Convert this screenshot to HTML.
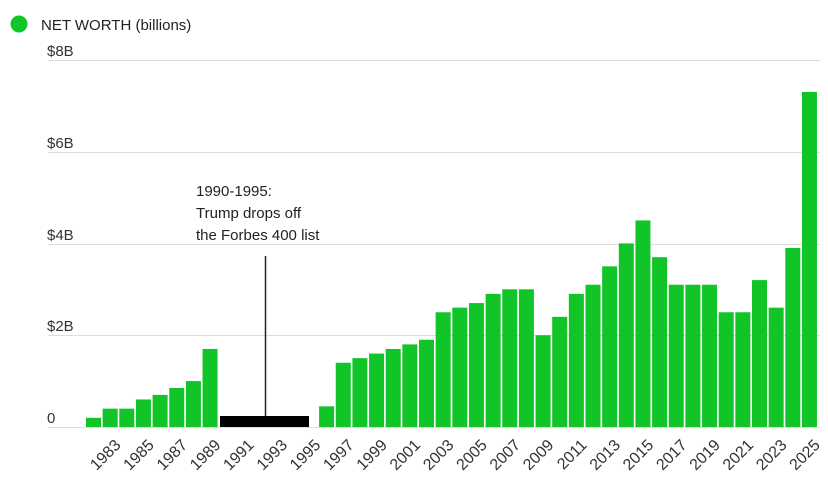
<!DOCTYPE html>
<html><head><meta charset="utf-8"><style>body{margin:0;background:#fff}</style></head><body>
<svg width="828" height="491" xmlns="http://www.w3.org/2000/svg" font-family="Liberation Sans, sans-serif">
<circle cx="19" cy="24" r="8.5" fill="#11c428"/>
<text x="41" y="30" font-size="15" fill="#222">NET WORTH (billions)</text>
<g stroke="#ddd" stroke-width="1">
<line x1="48" x2="820" y1="60.5" y2="60.5"/>
<line x1="48" x2="820" y1="152.5" y2="152.5"/>
<line x1="48" x2="820" y1="244.5" y2="244.5"/>
<line x1="48" x2="820" y1="335.5" y2="335.5"/>
<line x1="48" x2="820" y1="427.5" y2="427.5"/>
</g>
<g font-size="15" fill="#333">
<text x="47" y="56">$8B</text>
<text x="47" y="148">$6B</text>
<text x="47" y="240">$4B</text>
<text x="47" y="331">$2B</text>
<text x="47" y="423">0</text>
</g>
<g id="bars" fill="#11c428"></g>
<rect x="220" y="416" width="89" height="11" fill="#000"/>
<line x1="265.5" x2="265.5" y1="256" y2="416" stroke="#222" stroke-width="1.5"/>
<g font-size="15" fill="#222">
<text x="196" y="196">1990-1995:</text>
<text x="196" y="218">Trump drops off</text>
<text x="196" y="240">the Forbes 400 list</text>
</g>
<g id="labels" font-size="16" fill="#333"></g>
</svg>
<script>
var v={1982:.2,1983:.4,1984:.4,1985:.6,1986:.7,1987:.85,1988:1.0,1989:1.7,1996:.45,1997:1.4,1998:1.5,1999:1.6,2000:1.7,2001:1.8,2002:1.9,2003:2.5,2004:2.6,2005:2.7,2006:2.9,2007:3.0,2008:3.0,2009:2.0,2010:2.4,2011:2.9,2012:3.1,2013:3.5,2014:4.0,2015:4.5,2016:3.7,2017:3.1,2018:3.1,2019:3.1,2020:2.5,2021:2.5,2022:3.2,2023:2.6,2024:3.9,2025:7.3};
var ns="http://www.w3.org/2000/svg",b=document.getElementById("bars"),l=document.getElementById("labels");
for(var y=1982;y<=2025;y++){var x=86+(y-1982)*16.65;
if(v[y]){var r=document.createElementNS(ns,"rect");var h=v[y]*45.9;r.setAttribute("x",x);r.setAttribute("y",427-h);r.setAttribute("width",15);r.setAttribute("height",h);b.appendChild(r);}
if(y%2==1){var t=document.createElementNS(ns,"text");var cx=x+19,cy=446;t.setAttribute("x",cx);t.setAttribute("y",cy);t.setAttribute("text-anchor","end");t.setAttribute("transform","rotate(-45 "+cx+" "+cy+")");t.textContent=y;l.appendChild(t);}}
</script>
</body></html>
